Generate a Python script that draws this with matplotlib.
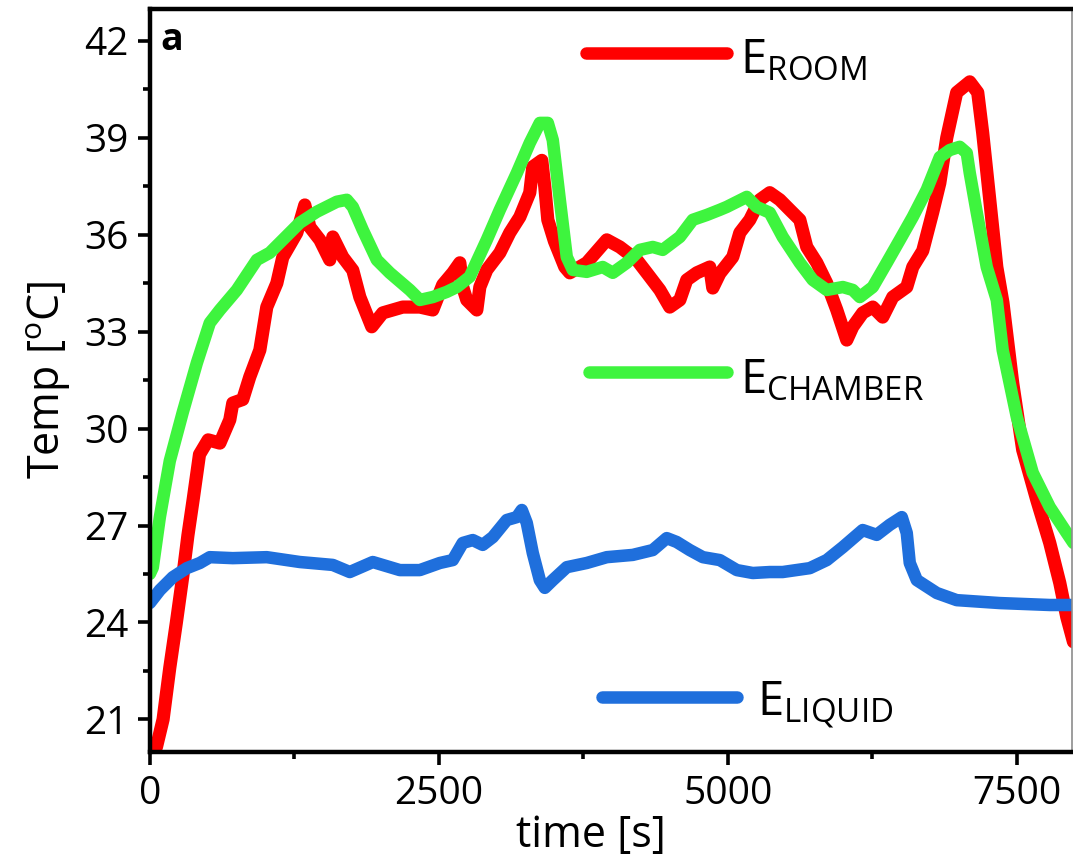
import matplotlib
matplotlib.use("Agg")
import matplotlib.pyplot as plt
from matplotlib.ticker import MultipleLocator

plt.rcParams["font.family"] = ["Open Sans", "DejaVu Sans"]
plt.rcParams["mathtext.fontset"] = "custom"
plt.rcParams["mathtext.rm"] = "Open Sans"
plt.rcParams["mathtext.it"] = "Open Sans:italic"
plt.rcParams["mathtext.bf"] = "Open Sans:bold"

# E_ROOM
room_t = [0, 58, 115, 173, 230, 288, 330, 375, 430, 505, 606, 692, 718, 804, 865,
          952, 1012, 1099, 1150, 1272, 1341, 1384, 1471, 1557, 1583, 1669, 1756,
          1817, 1920, 2015, 2188, 2336, 2448, 2534, 2621, 2682, 2707, 2742, 2829,
          2855, 2915, 3028, 3114, 3201, 3287, 3313, 3391, 3417, 3443, 3500, 3590,
          3633, 3780, 3953, 4066, 4213, 4299, 4412, 4498, 4585, 4645, 4732, 4844,
          4870, 4931, 5043, 5104, 5190, 5277, 5363, 5450, 5536, 5623, 5683, 5770,
          5856, 5943, 6029, 6081, 6167, 6254, 6340, 6427, 6548, 6600, 6686, 6773,
          6834, 6894, 6980, 7093, 7162, 7205, 7266, 7327, 7380, 7465, 7551, 7672,
          7785, 7872, 7932, 7990]
room_T = [19.9, 20.15, 21.0, 22.6, 24.0, 25.5, 26.7, 27.8, 29.2, 29.65, 29.55,
          30.27, 30.79, 30.9, 31.6, 32.43, 33.76, 34.5, 35.3, 36.06, 36.92, 36.24,
          35.84, 35.22, 35.93, 35.31, 34.9, 34.07, 33.15, 33.58, 33.76, 33.76,
          33.67, 34.45, 34.82, 35.13, 34.38, 33.98, 33.67, 34.38, 34.91, 35.44,
          36.06, 36.55, 37.3, 38.1, 38.3, 37.48, 36.46, 35.8, 35.0, 34.82, 35.13,
          35.84, 35.62, 35.22, 34.82, 34.29, 33.76, 33.98, 34.6, 34.82, 35.0,
          34.35, 34.8, 35.31, 36.06, 36.46, 37.08, 37.3, 37.08, 36.77, 36.46,
          35.62, 35.13, 34.5, 33.67, 32.74, 33.15, 33.58, 33.76, 33.45, 34.07,
          34.38, 35.0, 35.5, 36.7, 37.6, 39.0, 40.4, 40.73, 40.4, 39.15, 37.08,
          35.0, 33.9, 31.4, 29.34, 27.8, 26.46, 25.22, 24.17, 23.4]

# E_CHAMBER
chamber_t = [0, 26, 87, 173, 285, 407, 519, 606, 753, 926, 1038, 1150, 1298,
             1445, 1618, 1704, 1756, 1842, 1964, 2076, 2249, 2336, 2448, 2569,
             2656, 2768, 2915, 3028, 3175, 3287, 3374, 3443, 3486, 3547, 3607,
             3659, 3780, 3918, 4005, 4126, 4239, 4351, 4437, 4585, 4697, 4818,
             4931, 4991, 5164, 5250, 5363, 5475, 5623, 5735, 5856, 5995, 6081,
             6142, 6254, 6375, 6488, 6600, 6721, 6834, 6920, 7006, 7067, 7093,
             7154, 7240, 7327, 7378, 7500, 7638, 7785, 7932, 7990]
chamber_T = [25.5, 25.7, 27.26, 29.0, 30.5, 32.03, 33.27, 33.67, 34.29, 35.22,
             35.44, 35.84, 36.37, 36.71, 37.02, 37.08, 36.86, 36.15, 35.22, 34.82,
             34.29, 33.98, 34.07, 34.23, 34.38, 34.7, 35.84, 36.77, 37.91, 38.84,
             39.46, 39.46, 38.93, 37.08, 35.31, 34.91, 34.85, 35.0, 34.82, 35.13,
             35.53, 35.62, 35.53, 35.93, 36.46, 36.61, 36.77, 36.86, 37.17, 36.86,
             36.68, 35.93, 35.13, 34.6, 34.29, 34.38, 34.29, 34.07, 34.38, 35.13,
             35.84, 36.55, 37.39, 38.4, 38.62, 38.72, 38.53, 37.91, 36.68, 35.0,
             33.98, 32.43, 30.36, 28.63, 27.57, 26.77, 26.46]

# E_LIQUID
liquid_t = [0, 87, 199, 320, 433, 519, 718, 1012, 1298, 1583, 1730, 1929, 2163,
            2336, 2509, 2621, 2707, 2794, 2880, 2967, 3088, 3175, 3218, 3261, 3313,
            3374, 3417, 3486, 3607, 3780, 3953, 4178, 4351, 4472, 4558, 4671, 4784,
            4931, 5078, 5216, 5363, 5475, 5709, 5856, 5995, 6167, 6288, 6401, 6505,
            6548, 6574, 6635, 6808, 6980, 7352, 7785, 7990]
liquid_T = [24.6, 25.0, 25.4, 25.68, 25.84, 26.02, 25.99, 26.02, 25.87, 25.78,
            25.56, 25.87, 25.62, 25.62, 25.84, 25.93, 26.46, 26.55, 26.4, 26.64,
            27.17, 27.26, 27.48, 27.08, 26.15, 25.31, 25.07, 25.31, 25.71, 25.84,
            26.02, 26.09, 26.24, 26.61, 26.49, 26.24, 26.02, 25.93, 25.62, 25.53,
            25.56, 25.56, 25.68, 25.93, 26.33, 26.86, 26.71, 27.02, 27.26, 26.77,
            25.84, 25.31, 24.91, 24.69, 24.6, 24.54, 24.54]

c_room = "#ff0000"
c_chamber = "#3ef43e"
c_liquid = "#1f6fdc"
lw = 9

fig = plt.figure(figsize=(10.73, 8.68), dpi=100)
ax = fig.add_axes([0.1396, 0.134, 0.8592, 0.8562])

ax.plot(room_t, room_T, color=c_room, lw=lw + 0.5, solid_capstyle="round",
        solid_joinstyle="round")
ax.plot(chamber_t, chamber_T, color=c_chamber, lw=lw, solid_capstyle="round",
        solid_joinstyle="round")
ax.plot(liquid_t, liquid_T, color=c_liquid, lw=lw, solid_capstyle="round",
        solid_joinstyle="round")

ax.set_xlim(0, 7975)
ax.set_ylim(20, 43)
ax.xaxis.set_major_locator(MultipleLocator(2500))
ax.xaxis.set_minor_locator(MultipleLocator(1250))
ax.yaxis.set_major_locator(MultipleLocator(3))
ax.yaxis.set_minor_locator(MultipleLocator(1.5))

for side in ["left", "bottom", "top"]:
    ax.spines[side].set_linewidth(3.2)
    ax.spines[side].set_color("black")
ax.spines["right"].set_linewidth(1.2)
ax.spines["right"].set_color("#8c8c8c")

ax.tick_params(which="major", direction="out", length=9, width=2.6,
               labelsize=28, top=False, right=False)
ax.tick_params(which="minor", direction="out", length=5, width=2.6,
               top=False, right=False)
ax.tick_params(axis="x", which="major", pad=8)
ax.tick_params(axis="y", which="major", pad=6)

ax.set_xlabel("time [s]", fontsize=31, labelpad=0, x=0.478)
ax.set_ylabel(r"Temp [$^{\mathrm{o}}$C]", fontsize=31, labelpad=8)

ax.text(0.011, 0.944, "a", transform=ax.transAxes, fontsize=27,
        fontweight="bold", ha="left", va="baseline")

# legend-like labels
legend_items = [
    (c_room, (0.473, 0.626), 0.940, (0.640, 0.913), r"E$_{\mathrm{ROOM}}$"),
    (c_chamber, (0.476, 0.626), 0.511, (0.640, 0.483), r"E$_{\mathrm{CHAMBER}}$"),
    (c_liquid, (0.491, 0.637), 0.0736, (0.659, 0.049), r"E$_{\mathrm{LIQUID}}$"),
]
for color, (x0, x1), yl, (tx, ty), label in legend_items:
    ax.plot([x0, x1], [yl, yl], color=color, lw=lw, solid_capstyle="round",
            transform=ax.transAxes, clip_on=False)
    ax.text(tx, ty, label, transform=ax.transAxes, fontsize=34,
            ha="left", va="baseline")

fig.savefig("out.png", dpi=100)
